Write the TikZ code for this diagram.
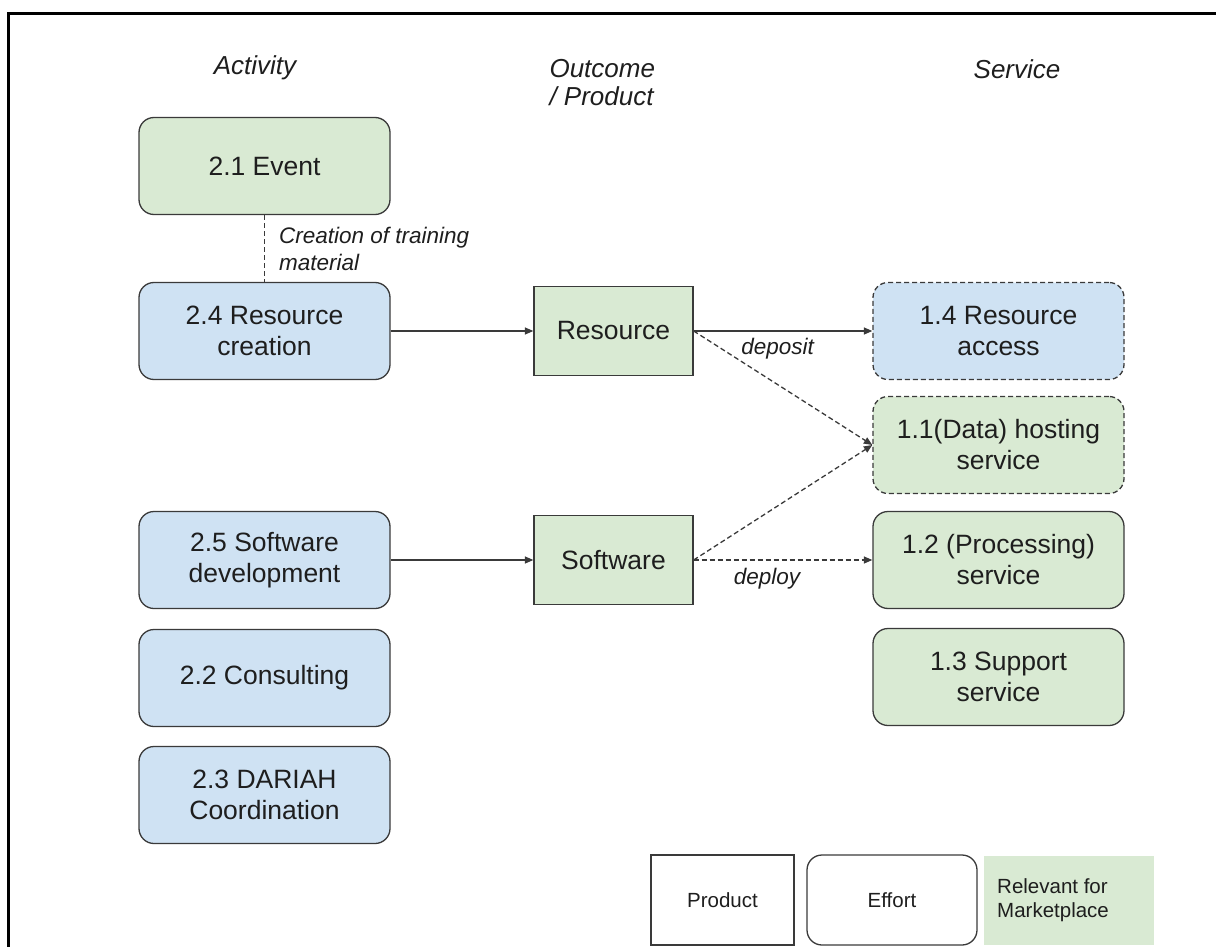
\documentclass[tikz,border=0pt]{standalone}
\usepackage{fontspec}
\setmainfont{Liberation Sans}
\usetikzlibrary{arrows.meta}
\definecolor{gfill}{HTML}{D9EAD3}
\definecolor{bfill}{HTML}{CFE2F3}
\definecolor{edgec}{HTML}{3A3A3A}
\definecolor{txtc}{HTML}{1E1E1E}
\begin{document}
\begin{tikzpicture}[x=1pt,y=-1pt,
  every node/.style={text=txtc},
  effbox/.style={draw=edgec, line width=1.3pt, rounded corners=15pt, minimum width=251pt, minimum height=97pt, align=center, inner sep=0pt, font=\fontsize{26.5}{31}\selectfont},
  prodbox/.style={draw=edgec, line width=1.3pt, minimum width=159pt, minimum height=89pt, align=center, inner sep=0pt, fill=gfill, font=\fontsize{26.5}{31}\selectfont},
  green/.style={fill=gfill},
  blue/.style={fill=bfill},
  dsh/.style={dash pattern=on 5pt off 3pt},
  head/.style={font=\fontsize{26}{28}\selectfont\itshape},
  lbl/.style={font=\fontsize{22.5}{27}\selectfont\itshape, inner sep=0pt},
  conn/.style={line width=1.3pt, draw=edgec},
  tip/.style={-{Triangle[length=8.5pt,width=7pt]}},
  legtxt/.style={font=\fontsize{20.5}{24}\selectfont, align=left, inner sep=0pt}
]
\useasboundingbox (0,0) rectangle (1216,947);
% frame
\draw[line width=2.6pt] (8.5,947) -- (8.5,13.5) -- (1216,13.5);

% headers
\node[head] (hAct) at (255,68) {Activity};
\node[head, anchor=west, align=left] (hOut) at (546,83) {Outcome\\/ Product};
\node[head] (hSer) at (1017,69) {Service};

% activity column
\node[effbox, green] (ev) at (264.5,166) {2.1 Event};
\node[effbox, blue] (rc) at (264.5,331) {2.4 Resource\\creation};
\node[effbox, blue] (sd) at (264.5,560) {2.5 Software\\development};
\node[effbox, blue] (cs) at (264.5,678) {2.2 Consulting};
\node[effbox, blue] (dc) at (264.5,795) {2.3 DARIAH\\Coordination};

% products
\node[prodbox] (res) at (613.5,331) {Resource};
\node[prodbox] (sw) at (613.5,560) {Software};

% services
\node[effbox, blue, dsh] (ra) at (998.5,331) {1.4 Resource\\access};
\node[effbox, green, dsh] (hs) at (998.5,445) {1.1(Data) hosting\\service};
\node[effbox, green] (ps) at (998.5,560) {1.2 (Processing)\\service};
\node[effbox, green] (ss) at (998.5,677) {1.3 Support\\service};

% connectors
\draw[conn, dsh] (ev.south) -- node[lbl, right=14pt, align=left] {Creation of training\\material} (rc.north);
\draw[conn, tip] (rc.east) -- (res.west);
\draw[conn, tip] (sd.east) -- (sw.west);
\draw[conn, tip] (res.east) -- node[lbl, pos=0.47, below=7pt] {deposit} (ra.west);
\draw[conn, tip, dsh] (res.east) -- (hs.west);
\draw[conn, tip, dsh] (sw.east) -- (hs.west);
\draw[conn, tip, dsh] (sw.east) -- node[lbl, pos=0.41, below=8pt] {deploy} (ps.west);

% legend
\node[draw=edgec, line width=1.3pt, minimum width=143pt, minimum height=90pt, inner sep=0pt, font=\fontsize{20.5}{24}\selectfont] (lp) at (722.5,900) {Product};
\node[draw=edgec, line width=1.3pt, rounded corners=15pt, minimum width=170pt, minimum height=90pt, inner sep=0pt, font=\fontsize{20.5}{24}\selectfont] (le) at (892,900) {Effort};
\node[fill=gfill, minimum width=170pt, minimum height=89pt, inner sep=0pt] (lr) at (1069,900.5) {};
\node[legtxt, anchor=west] (lrt) at (997,900) {Relevant for\\Marketplace};
\end{tikzpicture}
\end{document}
